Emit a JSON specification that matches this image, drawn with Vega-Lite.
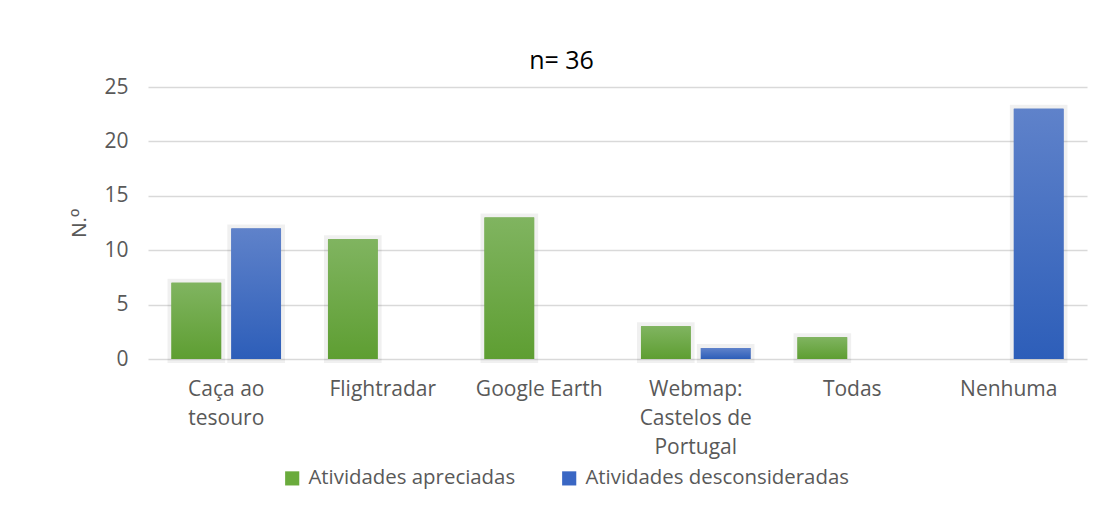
{
  "$schema": "https://vega.github.io/schema/vega-lite/v6.json",
  "autosize": {"type": "none"},
  "width": 939,
  "height": 272,
  "padding": {"left": 148, "top": 87, "right": 18, "bottom": 147},
  "background": "white",
  "config": {
    "font": "Open Sans",
    "view": {"stroke": null}
  },
  "title": {
    "text": "n= 36",
    "fontSize": 25,
    "fontWeight": "normal",
    "color": "#000000",
    "frame": "group",
    "anchor": "middle",
    "dx": -56,
    "offset": 2
  },
  "data": {
    "values": [
      {"categoria": "Caça ao tesouro", "serie": "Atividades apreciadas", "valor": 7},
      {"categoria": "Caça ao tesouro", "serie": "Atividades desconsideradas", "valor": 12},
      {"categoria": "Flightradar", "serie": "Atividades apreciadas", "valor": 11},
      {"categoria": "Flightradar", "serie": "Atividades desconsideradas", "valor": 0},
      {"categoria": "Google Earth", "serie": "Atividades apreciadas", "valor": 13},
      {"categoria": "Google Earth", "serie": "Atividades desconsideradas", "valor": 0},
      {"categoria": "Webmap: Castelos de Portugal", "serie": "Atividades apreciadas", "valor": 3},
      {"categoria": "Webmap: Castelos de Portugal", "serie": "Atividades desconsideradas", "valor": 1},
      {"categoria": "Todas", "serie": "Atividades apreciadas", "valor": 2},
      {"categoria": "Todas", "serie": "Atividades desconsideradas", "valor": 0},
      {"categoria": "Nenhuma", "serie": "Atividades apreciadas", "valor": 0},
      {"categoria": "Nenhuma", "serie": "Atividades desconsideradas", "valor": 23}
    ]
  },
  "encoding": {
    "x": {
      "field": "categoria",
      "type": "nominal",
      "sort": null,
      "scale": {"paddingInner": 0.3, "paddingOuter": 0.15},
      "axis": {
        "title": null,
        "labelAngle": 0,
        "labelFontSize": 21,
        "labelColor": "#595959",
        "labelPadding": 19,
        "labelLineHeight": 29,
        "labelBaseline": "top",
        "domain": false,
        "ticks": false,
        "labelExpr": "datum.value == 'Caça ao tesouro' ? ['Caça ao', 'tesouro'] : datum.value == 'Webmap: Castelos de Portugal' ? ['Webmap:', 'Castelos de', 'Portugal'] : datum.value"
      }
    },
    "xOffset": {
      "field": "serie",
      "type": "nominal",
      "scale": {"domain": ["Atividades apreciadas", "Atividades desconsideradas"], "paddingInner": 0.17, "paddingOuter": 0}
    },
    "y": {
      "field": "valor",
      "type": "quantitative",
      "scale": {"domain": [0, 25]},
      "axis": {
        "title": "N.º",
        "titleFont": "Liberation Sans",
        "titleFontSize": 21,
        "titleFontWeight": "normal",
        "titleColor": "#595959",
        "titlePadding": 14,
        "values": [0, 5, 10, 15, 20, 25],
        "labelFontSize": 21,
        "labelColor": "#595959",
        "labelPadding": 20,
        "domain": false,
        "ticks": false,
        "gridColor": "#d9d9d9",
        "gridWidth": 1.5
      }
    }
  },
  "layer": [
    {
      "transform": [{"filter": "datum.valor > 0"}],
      "mark": {"type": "bar", "stroke": "#000000", "strokeOpacity": 0.06, "strokeWidth": 8},
      "encoding": {
        "color": {
          "field": "serie",
          "type": "nominal",
          "scale": {"domain": ["Atividades apreciadas", "Atividades desconsideradas"], "range": ["#6aab3c", "#3a67c4"]},
          "legend": {
            "title": null,
            "orient": "none",
            "direction": "horizontal",
            "legendX": 134,
            "legendY": 381,
            "symbolType": "square",
            "symbolSize": 200,
            "symbolStrokeWidth": 0,
            "symbolOpacity": 1,
            "labelFontSize": 20.4,
            "labelColor": "#595959",
            "labelOffset": 6,
            "labelLimit": 500,
            "columnPadding": 43
          }
        }
      }
    },
    {
      "transform": [{"filter": "datum.valor > 0 && datum.serie == 'Atividades apreciadas'"}],
      "mark": {
        "type": "bar",
        "fill": {"gradient": "linear", "x1": 0, "y1": 0, "x2": 0, "y2": 1, "stops": [{"offset": 0, "color": "#80b460"}, {"offset": 1, "color": "#5e9e32"}]}
      }
    },
    {
      "transform": [{"filter": "datum.valor > 0 && datum.serie == 'Atividades desconsideradas'"}],
      "mark": {
        "type": "bar",
        "fill": {"gradient": "linear", "x1": 0, "y1": 0, "x2": 0, "y2": 1, "stops": [{"offset": 0, "color": "#5f82ca"}, {"offset": 1, "color": "#2d5eb9"}]}
      }
    }
  ]
}
